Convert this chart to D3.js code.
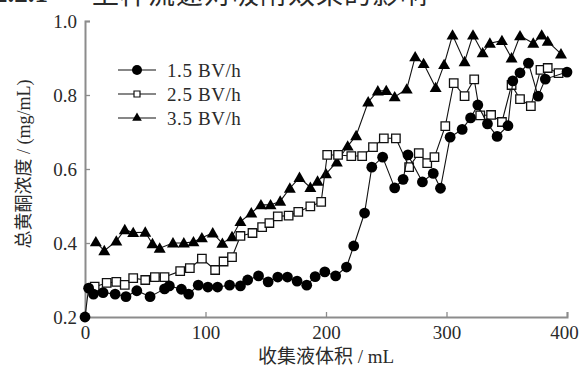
<!DOCTYPE html>
<html>
<head>
<meta charset="utf-8">
<script src="https://cdn.jsdelivr.net/npm/d3@7/dist/d3.min.js"></script>
<style>
  html, body { margin: 0; padding: 0; background: #fff; }
  svg { display: block; }
  text { font-family: "Liberation Serif", "Times New Roman", "Noto Sans CJK SC", serif; fill: #2a2a2a; }
</style>
</head>
<body>
<svg id="chart" width="580" height="374"></svg>
<script>
// Collected volume (mL) and total flavonoid concentration (mg/mL) per flow rate
const vol15 = [0, 3, 7, 15, 25, 34, 43, 54, 66, 70, 80, 86, 94, 102, 110, 120, 129, 135, 144, 152, 160, 168, 176, 184, 191, 199, 208, 217, 223, 232, 238, 247, 257, 264, 268, 280, 289, 295, 303, 313, 320, 326, 334, 342, 351, 355, 361, 368, 376, 382, 400];
const conc15 = [0.200, 0.278, 0.262, 0.266, 0.262, 0.255, 0.271, 0.255, 0.276, 0.284, 0.275, 0.262, 0.286, 0.281, 0.281, 0.286, 0.284, 0.300, 0.311, 0.295, 0.308, 0.308, 0.297, 0.286, 0.309, 0.322, 0.311, 0.335, 0.392, 0.481, 0.605, 0.632, 0.549, 0.572, 0.638, 0.565, 0.588, 0.548, 0.686, 0.707, 0.738, 0.773, 0.722, 0.688, 0.717, 0.838, 0.860, 0.886, 0.797, 0.843, 0.862];

const vol25 = [8, 18, 26, 33, 40, 50, 58, 66, 79, 87, 97, 108, 115, 122, 129, 139, 147, 153, 160, 169, 177, 187, 196, 201, 210, 221, 230, 239, 248, 258, 269, 277, 284, 290, 299, 306, 315, 323, 328, 337, 346, 354, 361, 370, 378, 384, 393];
const conc25 = [0.282, 0.292, 0.295, 0.287, 0.305, 0.300, 0.308, 0.308, 0.324, 0.332, 0.358, 0.327, 0.350, 0.362, 0.419, 0.427, 0.443, 0.454, 0.472, 0.474, 0.484, 0.499, 0.511, 0.638, 0.638, 0.635, 0.635, 0.659, 0.683, 0.683, 0.605, 0.643, 0.616, 0.632, 0.716, 0.832, 0.797, 0.842, 0.745, 0.746, 0.727, 0.827, 0.789, 0.770, 0.868, 0.873, 0.859];

const vol35 = [9, 16, 26, 33, 40, 50, 56, 62, 73, 82, 90, 97, 106, 114, 122, 129, 138, 146, 154, 162, 170, 178, 187, 193, 200, 209, 218, 225, 235, 243, 250, 257, 267, 274, 281, 291, 298, 305, 315, 322, 330, 336, 346, 354, 361, 372, 379, 384, 395];
const conc35 = [0.403, 0.379, 0.405, 0.436, 0.428, 0.429, 0.398, 0.386, 0.400, 0.400, 0.403, 0.414, 0.427, 0.399, 0.417, 0.458, 0.481, 0.503, 0.503, 0.513, 0.548, 0.577, 0.550, 0.567, 0.587, 0.619, 0.662, 0.690, 0.781, 0.811, 0.812, 0.795, 0.816, 0.903, 0.885, 0.820, 0.882, 0.962, 0.890, 0.962, 0.914, 0.940, 0.947, 0.900, 0.960, 0.940, 0.962, 0.945, 0.911];

const seriesNames = ["1.5 BV/h", "2.5 BV/h", "3.5 BV/h"];
const xTicks = [0, 100, 200, 300, 400];
const yTicks = [0.2, 0.4, 0.6, 0.8, 1.0];
const headingNumber = "2.2.1";
const headingText = "上样流速对吸附效果的影响";
const xTitle = "收集液体积 / mL";
const yTitle = "总黄酮浓度 / (mg/mL)";

const svg = d3.select("#chart");
const x = d3.scaleLinear().domain([0, 400]).range([85, 567]);
const y = d3.scaleLinear().domain([0.2, 1.0]).range([317, 21]);

// Section heading, running off the top edge
const head = svg.append("text").attr("x", -6).attr("y", 4).style("font-size", "27px");
head.append("tspan").style("font-weight", "bold").style("font-family", "Liberation Serif, serif").attr("dy", -2).text(headingNumber);
head.append("tspan").attr("x", 92).attr("dy", 2).style("font-family", "Noto Sans CJK SC").style("letter-spacing", "1px").text(headingText);

// Axes with inward ticks
const axisColor = "#8c8c8c";
const gx = svg.append("g").attr("transform", "translate(0,317)")
  .call(d3.axisBottom(x).tickValues(xTicks).tickSize(-5).tickPadding(9).tickFormat(d3.format("d")));
const gy = svg.append("g").attr("transform", "translate(85,0)")
  .call(d3.axisLeft(y).tickValues(yTicks).tickSize(-5).tickPadding(8).tickFormat(d3.format(".1f")));
[gx, gy].forEach(g => {
  g.select(".domain").attr("stroke", axisColor).attr("stroke-width", 2);
  g.selectAll(".tick line").attr("stroke", axisColor).attr("stroke-width", 1.3);
  g.selectAll(".tick text").style("font-size", "19px").style("fill", "#2a2a2a")
    .style("font-family", "Liberation Serif, serif");
});
gy.selectAll(".tick text").attr("dy", "0.35em");
// keep the last x label inside the frame
gx.selectAll(".tick text").filter(d => d === 400).attr("dx", -3);

// Axis titles
svg.append("text").attr("x", x(200)).attr("y", 363).attr("text-anchor", "middle")
  .style("font-size", "19px").text(xTitle);
svg.append("text").attr("transform", "translate(30,164) rotate(-90)").attr("text-anchor", "middle")
  .style("font-size", "18px").text(yTitle);

// Series
const line = d3.line().x(d => x(d[0])).y(d => y(d[1]));
const data35 = d3.zip(vol35, conc35);
const data25 = d3.zip(vol25, conc25);
const data15 = d3.zip(vol15, conc15);

const triSym = d3.symbol().type(d3.symbolTriangle);
const sqSym = d3.symbol().type(d3.symbolSquare);

function drawSeries(data, kind) {
  const g = svg.append("g");
  g.append("path").datum(data).attr("d", line)
    .attr("fill", "none").attr("stroke", "#111").attr("stroke-width", 1.1);
  if (kind === "tri") {
    g.selectAll("path.m").data(data).join("path").attr("class", "m")
      .attr("d", triSym.size(62)())
      .attr("transform", d => `translate(${x(d[0])},${y(d[1]) + 1})`)
      .attr("fill", "#000");
  } else if (kind === "sq") {
    g.selectAll("path.m").data(data).join("path").attr("class", "m")
      .attr("d", sqSym.size(72)())
      .attr("transform", d => `translate(${x(d[0])},${y(d[1])})`)
      .attr("fill", "#fff").attr("stroke", "#111").attr("stroke-width", 1.3);
  } else {
    g.selectAll("circle").data(data).join("circle")
      .attr("cx", d => x(d[0])).attr("cy", d => y(d[1])).attr("r", 5.4)
      .attr("fill", "#000");
  }
}
drawSeries(data35, "tri");
drawSeries(data25, "sq");
drawSeries(data15, "circ");

// Legend
const legendRows = [
  { name: seriesNames[0], kind: "circ", y: 70 },
  { name: seriesNames[1], kind: "sq", y: 94 },
  { name: seriesNames[2], kind: "tri", y: 118 }
];
const lg = svg.append("g");
legendRows.forEach(r => {
  lg.append("line").attr("x1", 118).attr("x2", 156).attr("y1", r.y).attr("y2", r.y)
    .attr("stroke", "#111").attr("stroke-width", 1.1);
  if (r.kind === "circ") {
    lg.append("circle").attr("cx", 137).attr("cy", r.y).attr("r", 5).attr("fill", "#000");
  } else if (r.kind === "sq") {
    lg.append("path").attr("d", sqSym.size(36)()).attr("transform", `translate(137,${r.y})`)
      .attr("fill", "#fff").attr("stroke", "#111").attr("stroke-width", 1.2);
  } else {
    lg.append("path").attr("d", triSym.size(40)()).attr("transform", `translate(137,${r.y})`)
      .attr("fill", "#000");
  }
  lg.append("text").attr("x", 167).attr("y", r.y).attr("dy", "0.35em")
    .style("font-size", "19px").style("letter-spacing", "0.6px")
    .style("font-family", "Liberation Serif, serif").text(r.name);
});
</script>
</body>
</html>
